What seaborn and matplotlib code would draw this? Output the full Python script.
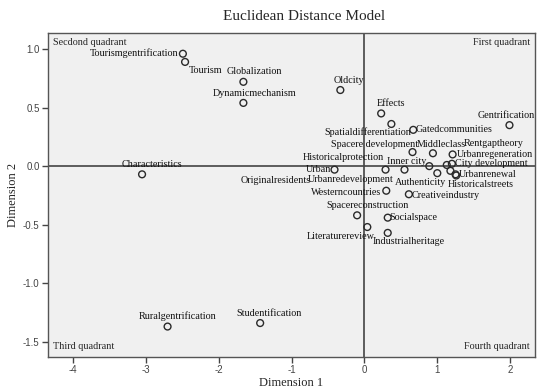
import pandas as pd
import matplotlib
matplotlib.use('Agg')
import matplotlib.pyplot as plt
import seaborn as sns

# terms and their coordinates in the two-dimensional solution
terms = ['Tourismgentrification', 'Tourism', 'Globalization', 'Dynamicmechanism',
         'Oldcity', 'Effects', 'Spatialdifferentiation', 'Gatedcommunities',
         'Gentrification', 'Spacere development', 'Middleclass', 'Rentgaptheory',
         'Urbanregeneration', 'Historicalprotection', 'Inner city', 'City development',
         'Urban', 'Urbanrenewal', 'Originalresidents', 'Urbanredevelopment',
         'Authenticity', 'Historicalstreets', 'Westerncountries', 'Creativeindustry',
         'Spacereconstruction', 'Socialspace', 'Literaturereview', 'Industrialheritage',
         'Characteristics', 'Ruralgentrification', 'Studentification']
dim1 = [-2.49, -2.46, -1.66, -1.66, -0.33, 0.23, 0.37, 0.67,
        1.99, 0.66, 0.94, 1.13, 1.21, 0.29, 0.55, 1.20,
        -0.41, 1.25, 1.26, 0.89, 1.00, 1.18, 0.30, 0.61,
        -0.10, 0.32, 0.04, 0.32, -3.05, -2.70, -1.43]
dim2 = [0.96, 0.89, 0.72, 0.54, 0.65, 0.45, 0.36, 0.31,
        0.35, 0.12, 0.11, 0.01, 0.10, -0.03, -0.03, 0.02,
        -0.03, -0.07, -0.08, 0.00, -0.06, -0.04, -0.21, -0.24,
        -0.42, -0.44, -0.52, -0.57, -0.07, -1.37, -1.34]

# where each label sits relative to its point (pixels, up is positive)
label_dx = [-49, 21, 11, 11, 9, 10, -24, 41, -3, -38, 8, 47, 42, -42, 2, 39,
            -16, 32, -181, -79, -17, 30, -40, 37, 10, 26, -27, 21, 10, 10, 9]
label_dy = [1, -9, 10, 9, 10, 10, -8, 0, 10, 8, 9, 21, 0, 12, 8, 0,
            0, 0, -5, -13, -9, -14, -2, -1, 10, 0, -9, -9, 10, 10, 10]

df = pd.DataFrame({'term': terms, 'Dimension 1': dim1, 'Dimension 2': dim2})

sns.set_style('white')
plt.rcParams['font.family'] = ['Liberation Serif', 'DejaVu Serif']

fig = plt.figure(figsize=(5.5, 3.92), dpi=100)
ax = fig.add_axes([0.0873, 0.0893, 0.8854, 0.8265])
ax.set_facecolor('#f0f0f0')

ax.axhline(0, color='#444444', lw=1.2, zorder=1)
ax.axvline(0, color='#444444', lw=1.2, zorder=1)

sns.scatterplot(data=df, x='Dimension 1', y='Dimension 2', ax=ax, s=24,
                facecolor='none', edgecolor='#2a2a2a', linewidth=1.0, zorder=3)

for t, x, y, dx, dy in zip(terms, dim1, dim2, label_dx, label_dy):
    ax.annotate(t, (x, y), xytext=(dx, dy), textcoords='offset pixels',
                ha='center', va='center', fontsize=7.3, color='#111111', zorder=4)

ax.set_xlim(-4.34, 2.34)
ax.set_ylim(-1.63, 1.137)
ax.set_xticks([-4, -3, -2, -1, 0, 1, 2])
ax.set_yticks([-1.5, -1.0, -0.5, 0.0, 0.5, 1.0])
ax.set_xticklabels(['-4', '-3', '-2', '-1', '0', '1', '2'], family='Liberation Sans', fontsize=7, color='#444444')
ax.set_yticklabels(['-1.5', '-1.0', '-0.5', '0.0', '0.5', '1.0'], family='Liberation Sans', fontsize=7, color='#444444')
ax.tick_params(direction='out', length=4, width=1, color='#444444', pad=2,
               bottom=True, left=True)
for sp in ax.spines.values():
    sp.set_color('#555555')
    sp.set_linewidth(1)

ax.set_xlabel('Dimension 1', fontsize=9, labelpad=1)
ax.set_ylabel('Dimension 2', fontsize=9, labelpad=3)
fig.text(304 / 550, 1 - 17 / 392, 'Euclidean Distance Model', ha='center', va='center', fontsize=11)

# quadrant names in the corners
ax.text(0.01, 0.985, 'Secdond quadrant', transform=ax.transAxes, ha='left', va='top', fontsize=7.3)
ax.text(0.99, 0.985, 'First quadrant', transform=ax.transAxes, ha='right', va='top', fontsize=7.3)
ax.text(0.01, 0.02, 'Third quadrant', transform=ax.transAxes, ha='left', va='bottom', fontsize=7.3)
ax.text(0.99, 0.02, 'Fourth quadrant', transform=ax.transAxes, ha='right', va='bottom', fontsize=7.3)

fig.savefig('out.png', dpi=100)
